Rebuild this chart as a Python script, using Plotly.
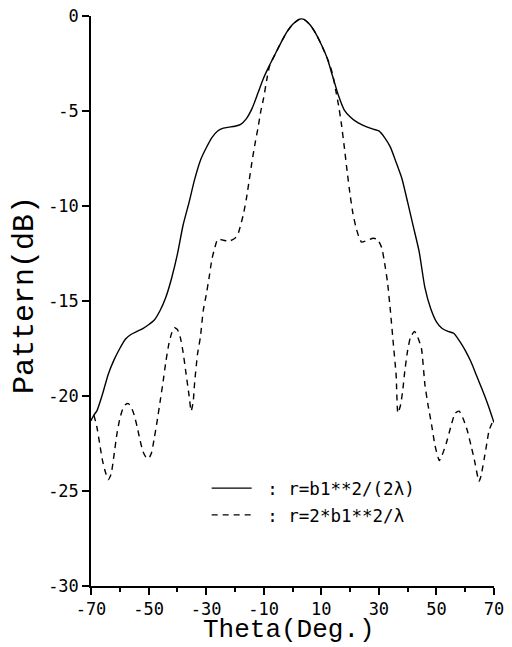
import plotly.graph_objects as go

# Solid curve: r = b1**2/(2 lambda)
theta_solid = [-70, -69, -68, -66, -64, -62, -60, -58, -56, -54, -52, -50, -48, -46, -44,
               -42, -40, -38, -36, -34, -32, -30, -28, -26, -24, -22, -20, -18, -16, -14,
               -12, -10, -8, -6, -4, -2, 0, 2, 3, 4, 6, 8, 10, 12, 14, 16, 18, 20, 22, 24,
               26, 28, 30, 32, 34, 36, 38, 40, 42, 44, 46, 48, 50, 52, 54, 56, 58, 60, 62,
               64, 66, 68, 70]
pattern_solid = [-21.3, -21.0, -20.8, -19.9, -18.85, -18.1, -17.5, -17.0, -16.75, -16.6,
                 -16.45, -16.25, -16.0, -15.5, -14.8, -13.8, -12.55, -11.0, -9.85, -8.6,
                 -7.6, -6.95, -6.4, -6.05, -5.9, -5.85, -5.8, -5.7, -5.4, -4.85, -4.05,
                 -3.25, -2.6, -2.0, -1.4, -0.85, -0.45, -0.2, -0.15, -0.18, -0.45, -0.9,
                 -1.5, -2.2, -3.2, -4.2, -4.95, -5.3, -5.55, -5.72, -5.85, -5.95, -6.05,
                 -6.4, -6.9, -7.7, -8.55, -9.8, -11.1, -12.4, -14.3, -15.4, -16.1, -16.45,
                 -16.6, -16.7, -17.1, -17.6, -18.2, -18.95, -19.7, -20.5, -21.4]

# Dashed curve: r = 2*b1**2/lambda
theta_dashed = [-69, -68, -67, -66, -65, -64, -63, -62, -61, -60, -59, -58, -57, -56, -55,
                -54, -53, -52, -51, -50, -49, -48, -47, -46, -45, -44, -43, -42, -41, -40,
                -39, -38, -37, -36, -35.2, -34.5, -34, -33, -32, -31, -30, -29, -28, -27,
                -26, -24, -22, -20, -19, -18, -17, -16, -15, -14, -13, -12, -11, -10, -9,
                -8, -6, -4, -2, 0, 2, 3, 4, 6, 8, 10, 12, 13, 14, 15, 16, 17, 18, 19, 20,
                21, 22, 23, 24, 26, 28, 29.5, 31, 32, 33, 34, 35, 36, 36.6, 37.5, 38.3, 39,
                40, 41, 42.4, 43.5, 44.8, 46, 47, 48.3, 49.5, 51, 52, 53.4, 55.2, 56.5,
                57.9, 59.3, 60.7, 62, 63.1, 64.8, 65.5, 66.6, 67.5, 68.3, 70]
pattern_dashed = [-21.0, -21.6, -22.5, -23.4, -24.0, -24.4, -24.1, -23.1, -22.0, -21.2,
                  -20.7, -20.45, -20.4, -20.6, -21.0, -21.6, -22.3, -22.9, -23.2, -23.3,
                  -23.0, -22.2, -21.3, -20.3, -19.3, -18.2, -17.3, -16.7, -16.4, -16.5,
                  -16.9, -17.7, -18.8, -19.9, -20.8, -20.3, -19.3, -17.8, -16.9, -15.5,
                  -14.7, -13.8, -12.8, -12.2, -11.75, -11.8, -11.85, -11.7, -11.5, -11.0,
                  -10.4, -9.6, -8.6, -7.6, -6.7, -5.9, -5.0, -4.3, -3.4, -2.65, -2.0, -1.4,
                  -0.85, -0.45, -0.2, -0.15, -0.18, -0.45, -0.9, -1.5, -2.2, -2.6, -3.1,
                  -3.9, -4.7, -5.7, -6.9, -8.2, -9.4, -10.4, -11.1, -11.6, -11.9, -11.8,
                  -11.7, -11.75, -12.2, -13.0, -14.0, -15.5, -17.2, -18.9, -20.9, -20.5,
                  -19.7, -18.7, -17.6, -16.9, -16.6, -16.9, -17.5, -19.4, -20.4, -21.5,
                  -22.6, -23.4, -23.1, -22.5, -21.5, -20.9, -20.8, -21.2, -21.8, -22.6,
                  -23.3, -24.5, -24.2, -23.3, -22.5, -21.8, -21.2]

legend_names = ["\u00a0: r=b1**2/(2\u03bb)", "\u00a0: r=2*b1**2/\u03bb"]
x_ticks = [-70, -50, -30, -10, 10, 30, 50, 70]
y_ticks = [0, -5, -10, -15, -20, -25, -30]
x_title = "Theta(Deg.)"
y_title = "Pattern(dB)"

fig = go.Figure()
fig.add_trace(go.Scatter(
    x=theta_solid, y=pattern_solid, mode="lines", name=legend_names[0],
    legendgroup="a",
    line=dict(color="black", width=1.4, shape="spline", smoothing=0.6)))
fig.add_trace(go.Scatter(
    x=theta_dashed, y=pattern_dashed, mode="lines", name=legend_names[1],
    legendgroup="b",
    line=dict(color="black", width=1.4, dash="6px,5px", shape="spline", smoothing=0.5)))

tick_font = dict(family="DejaVu Sans Mono", size=17, color="black")

fig.update_layout(
    width=504, height=639,
    margin=dict(l=83, r=18, t=8, b=61),
    paper_bgcolor="white", plot_bgcolor="white",
    showlegend=True,
    legend=dict(x=0.287, y=0.203, xanchor="left", yanchor="top",
                bgcolor="rgba(0,0,0,0)",
                font=dict(family="DejaVu Sans Mono", size=17.5, color="black"),
                tracegroupgap=1, itemwidth=40),
    xaxis=dict(range=[-70, 70], tickvals=x_ticks, ticktext=[str(v) for v in x_ticks],
               showline=True, linecolor="black", linewidth=1.5, ticks="outside",
               ticklen=7, tickwidth=1.5, tickcolor="black", showgrid=False, zeroline=False,
               tickfont=tick_font, automargin=False, ticklabeloverflow="allow",
               minor=dict(dtick=10, tick0=0, ticks="outside", ticklen=4, tickwidth=1.5,
                          tickcolor="black", showgrid=False)),
    yaxis=dict(range=[-30, 0], tickvals=y_ticks, ticktext=[str(v) for v in y_ticks],
               showline=True, linecolor="black", linewidth=1.5, ticks="outside",
               ticklen=7, tickwidth=1.5, tickcolor="black", showgrid=False, zeroline=False,
               tickfont=tick_font, automargin=False, ticklabeloverflow="allow"),
    annotations=[
        dict(text=x_title, xref="paper", yref="paper", x=0.491, y=-0.078,
             xanchor="center", yanchor="middle", showarrow=False,
             font=dict(family="Liberation Mono", size=26, color="black")),
        dict(text=y_title, xref="paper", yref="paper", x=-0.162, y=0.51,
             xanchor="center", yanchor="middle", showarrow=False, textangle=-90,
             font=dict(family="Liberation Mono", size=30, color="black")),
    ],
)

fig.write_html("out.html")
